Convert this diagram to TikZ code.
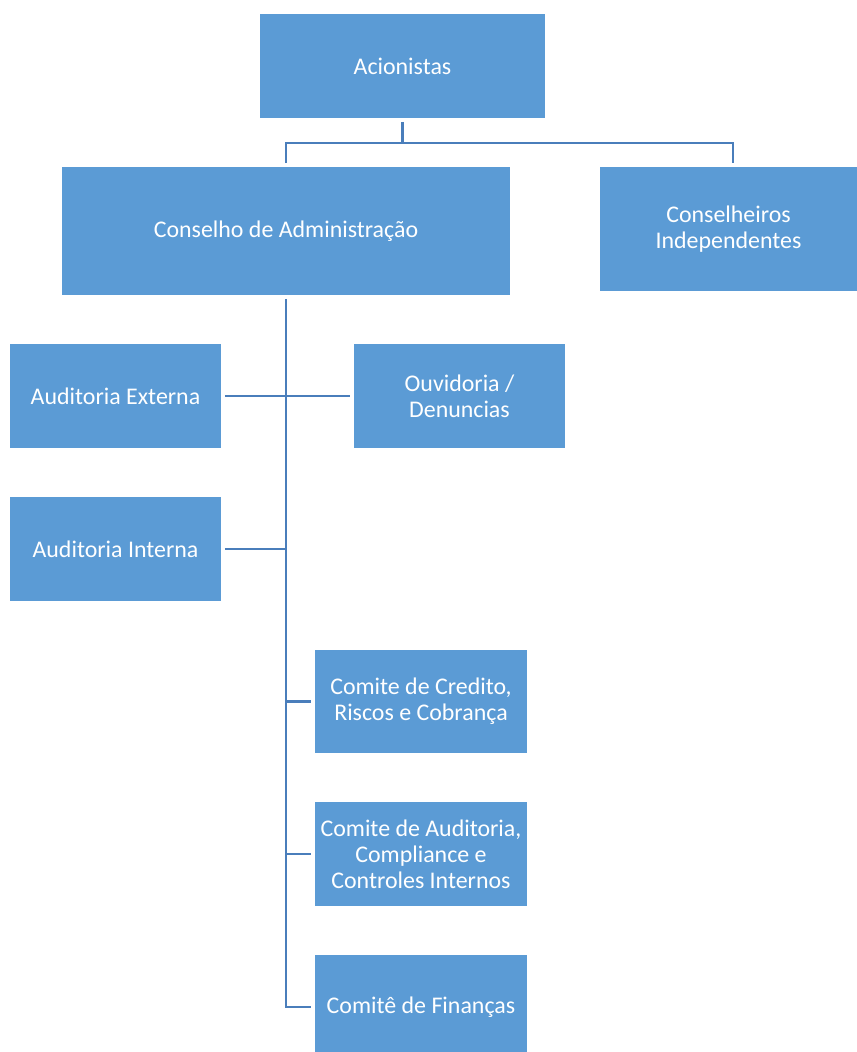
\documentclass[tikz,border=0pt]{standalone}
\usepackage{fontspec}
\setmainfont{Carlito}
\usetikzlibrary{positioning,calc}

\definecolor{boxblue}{HTML}{5B9BD5}
\definecolor{lineblue}{HTML}{4A7EBB}

\begin{document}
\begin{tikzpicture}[
    x=0.02cm,y=-0.02cm,
    box/.style={fill=boxblue,draw=none,text=white,align=center,inner sep=0pt,
        font=\fontsize{13.6}{14.9}\selectfont},
    link/.style={draw=lineblue,line width=1.6pt},
    gapa/.style={shorten <=0.07cm},
    gapb/.style={shorten >=0.07cm},
]
\useasboundingbox (0,0) rectangle (857,1052);

% Top level
\node[box,minimum width=5.7cm,minimum height=2.08cm] (ACI) at (402.5,66) {Acionistas};

% Board
\node[box,minimum width=8.96cm,minimum height=2.56cm] (CA) at (286,231) {Conselho de Administração};
\node[box,minimum width=5.14cm,minimum height=2.48cm] (CI) at (728.5,229) {Conselheiros\\Independentes};

% Audit and ombudsman
\node[box,minimum width=4.22cm,minimum height=2.08cm] (AE) at (115.5,396) {Auditoria Externa};
\node[box,minimum width=4.22cm,minimum height=2.08cm] (OUV) at (459.5,396) {Ouvidoria /\\Denuncias};
\node[box,minimum width=4.22cm,minimum height=2.08cm] (AI) at (115.5,549) {Auditoria Interna};

% Committees
\node[box,minimum width=4.24cm,minimum height=2.06cm] (CCR) at (421,701.5) {Comite de Credito,\\Riscos e Cobrança};
\node[box,minimum width=4.24cm,minimum height=2.08cm] (CAC) at (421,854) {Comite de Auditoria,\\Compliance e\\Controles Internos};
\node[box,minimum width=4.24cm,minimum height=2.08cm] (CF) at (421,1007) {Comitê de Finanças};

% Connections
\coordinate (top_split) at (402.5,143);
\draw[link,gapa] (ACI.south) -- (top_split);
\draw[link,gapa,gapb] (CA.north) |- (top_split) -| ($(CI.north)+(4.5,0)$);

\draw[link,gapa,gapb] (CA.south) |- (CF.west);
\draw[link,gapa,gapb] (AE.east) -- (OUV.west);
\draw[link,gapa] (AI.east) -- (AI.east -| CA.south);
\draw[link,gapb] (CA.south |- CCR.west) -- (CCR.west);
\draw[link,gapb] (CA.south |- CAC.west) -- (CAC.west);

\end{tikzpicture}
\end{document}
